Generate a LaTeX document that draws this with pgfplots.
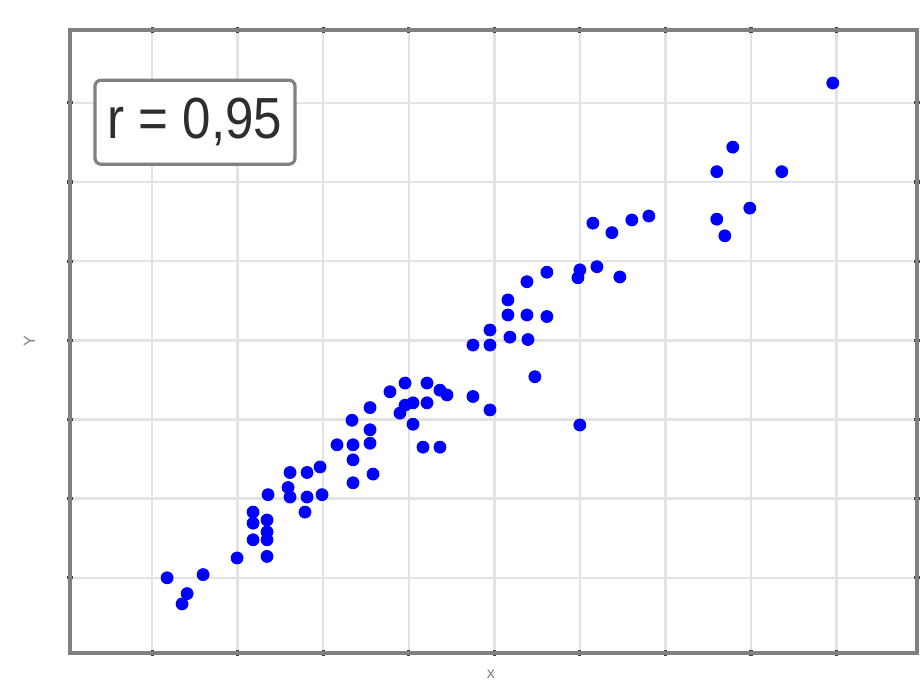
\documentclass[border=0pt]{standalone}
\usepackage{pgfplots}
\pgfplotsset{compat=1.18}
\usepackage{graphicx}
\usepackage{fontspec}
\setmainfont{Liberation Sans}
\begin{document}
\begin{tikzpicture}
\useasboundingbox (-35pt,-19pt) rectangle (426pt,326.5pt);
\begin{axis}[
  at={(0,0)}, anchor=south west,
  scale only axis,
  width=423.5pt, height=311.5pt,
  xmin=0.04, xmax=9.94, ymin=0.05, ymax=7.92,
  xtick={1,...,9}, ytick={1,...,7},
  xticklabels={}, yticklabels={},
  grid=major,
  grid style={line width=1.2pt, black!11},
  axis line style={line width=2pt, black!50},
  tick style={line width=1.6pt, black!75},
  major tick length=3pt,
  tick align=center,
  xlabel={x}, ylabel={Y},
  label style={font=\fontsize{8}{9}\selectfont, text=black!50},
  xlabel style={at={(axis description cs:0.497,0)}, anchor=north, yshift=-5pt},
  ylabel style={at={(axis description cs:0,0.5)}, anchor=south, yshift=14pt},
  clip=false,
]
\addplot[only marks, mark=*, mark size=3pt, mark options={fill=blue, draw=blue}] coordinates {
(1.175,1.00) (1.596,1.04) (1.409,0.80) (1.350,0.67)
(1.993,1.25) (2.343,1.27) (2.180,1.48) (2.343,1.48)
(2.180,1.69) (2.180,1.83) (2.343,1.73) (2.355,2.05)
(2.343,1.58) (2.612,2.02) (2.589,2.14) (2.787,1.83)
(2.986,2.05) (2.811,2.02) (2.612,2.33) (2.811,2.33)
(2.963,2.40)
(3.336,2.99) (3.547,3.15) (3.161,2.68) (3.348,2.68)
(3.547,2.70) (3.547,2.87) (3.348,2.49) (3.582,2.31)
(3.348,2.20)
(3.780,3.35) (3.956,3.46) (4.049,3.21) (3.897,3.08)
(4.049,2.94) (4.364,3.37) (4.446,3.31) (4.213,3.21)
(4.166,2.65) (4.364,2.65) (4.213,3.46) (3.956,3.18)
(4.750,3.29) (4.949,3.12) (4.750,3.94) (4.949,3.94)
(4.949,4.13) (5.182,4.04) (5.393,4.01) (5.159,4.32)
(5.159,4.51) (5.381,4.32) (5.614,4.30) (5.474,3.54)
(5.381,4.74) (5.614,4.86) (5.999,2.93) (5.977,4.79)
(6.000,4.89) (6.199,4.93) (6.467,4.80) (6.152,5.48)
(6.374,5.36) (6.607,5.52) (6.806,5.57) (7.787,6.44)
(7.600,6.13) (8.360,6.13) (7.986,5.67) (7.600,5.53)
(7.694,5.32) (8.956,7.25)
};
\node[draw=black!50, line width=1.6pt, rounded corners=3pt, fill=white,
      minimum width=100pt, minimum height=42pt, inner sep=1pt,
      text=black!82]
  at (rel axis cs:0.1476,0.852) {\scalebox{0.88}[1]{\fontsize{29}{32}\selectfont r = 0,95}};
\end{axis}
\end{tikzpicture}
\end{document}
